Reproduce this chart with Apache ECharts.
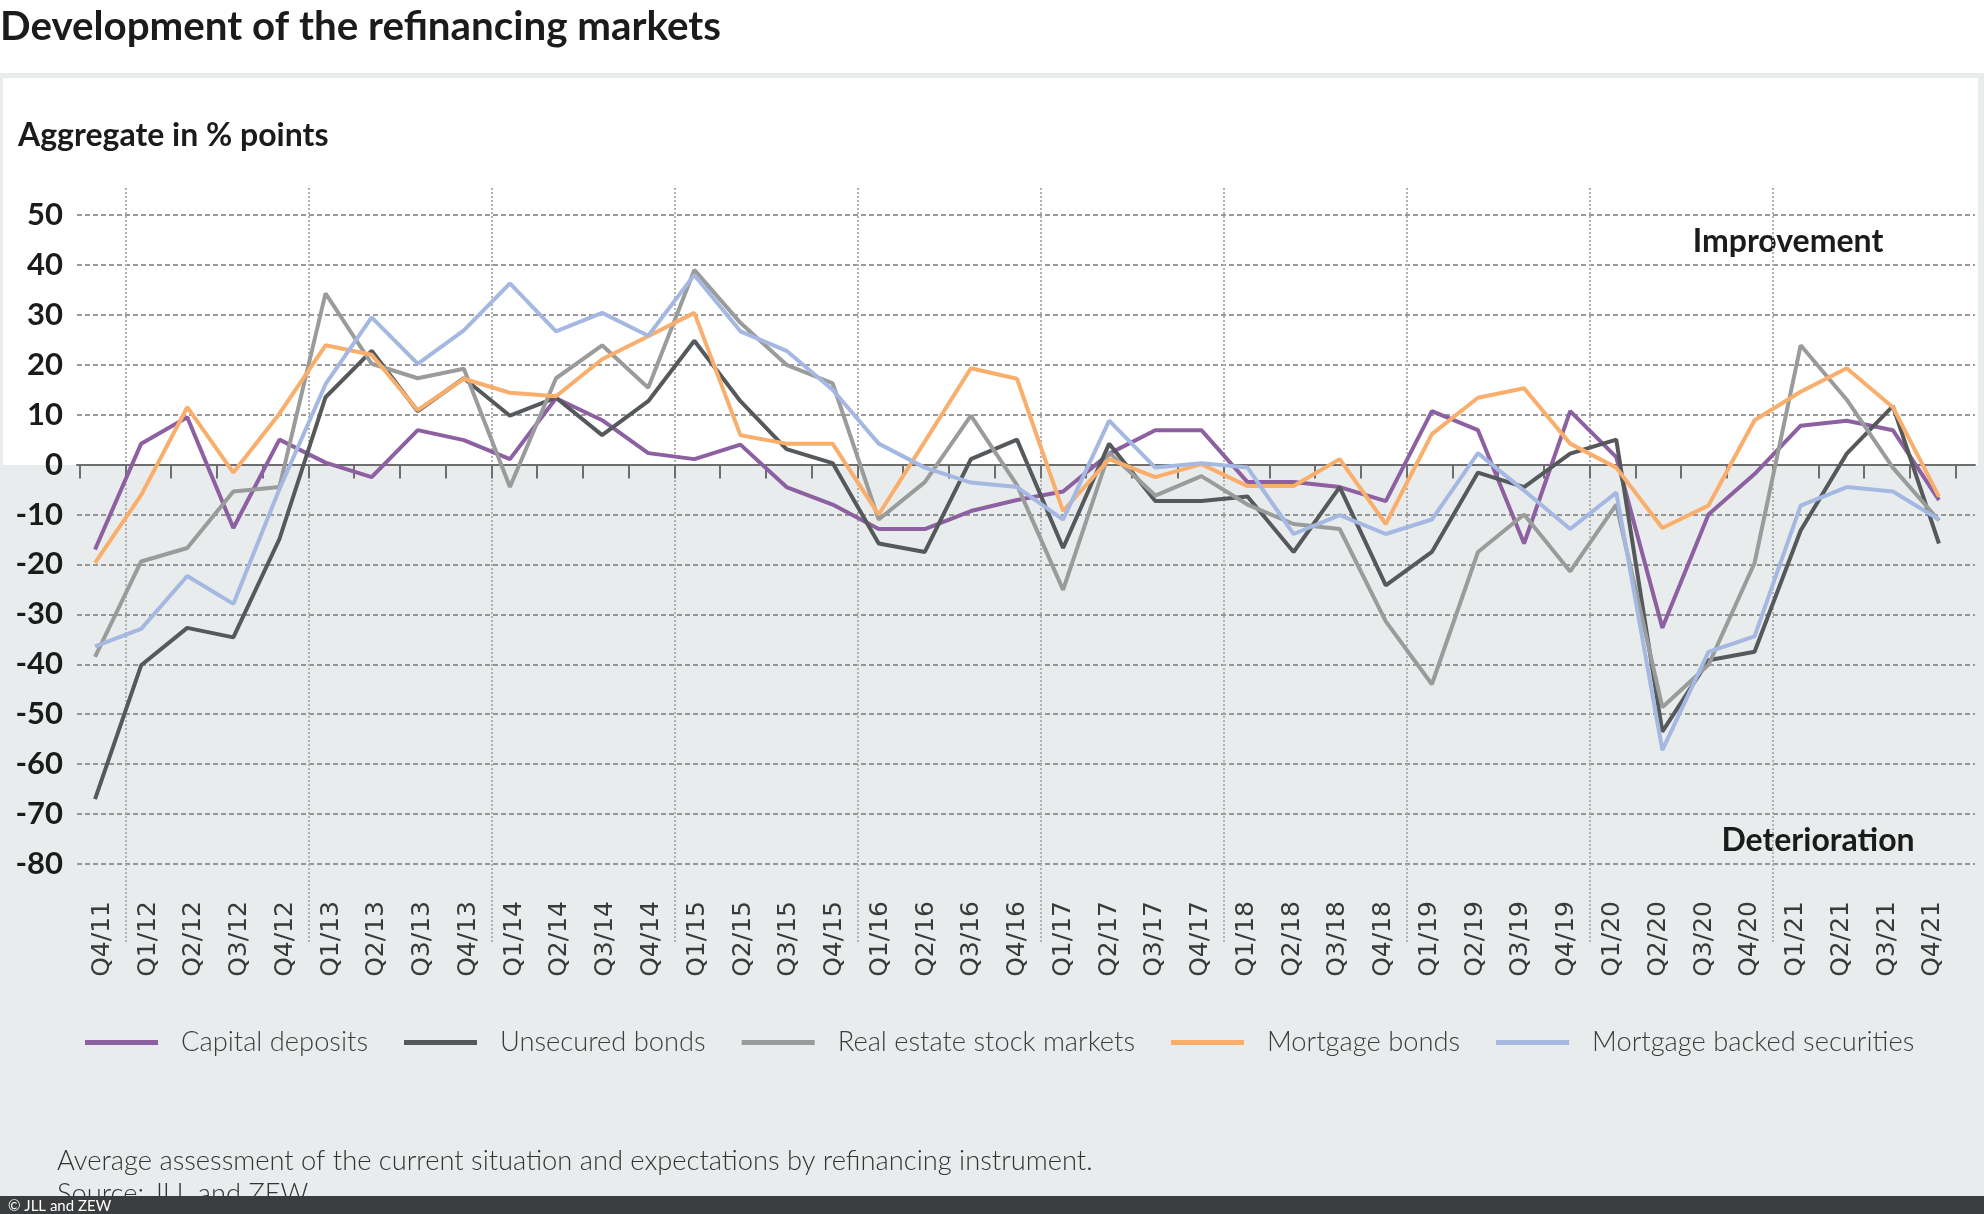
<!DOCTYPE html>
<html>
<head>
<meta charset="utf-8">
<script src="https://cdn.jsdelivr.net/npm/echarts@6/dist/echarts.min.js"></script>
<style>
  html, body { margin: 0; padding: 0; background: #ffffff; }
  #wrap { position: relative; width: 1984px; height: 1214px; overflow: hidden; }
  #bgPanel { position: absolute; left: 0; top: 73px; width: 1984px; height: 1141px; background: #e9ecec; }
  #bgWhite { position: absolute; left: 3px; top: 78px; width: 1975px; height: 386px; background: #ffffff; }
  #chart { position: absolute; left: 0; top: 0; width: 1984px; height: 1214px; }
</style>
</head>
<body>
<div id="wrap">
  <div id="bgPanel"></div>
  <div id="bgWhite"></div>
  <div id="chart"></div>
</div>
<script>
const categories = ["Q4/11","Q1/12","Q2/12","Q3/12","Q4/12","Q1/13","Q2/13","Q3/13","Q4/13","Q1/14","Q2/14","Q3/14","Q4/14","Q1/15","Q2/15","Q3/15","Q4/15","Q1/16","Q2/16","Q3/16","Q4/16","Q1/17","Q2/17","Q3/17","Q4/17","Q1/18","Q2/18","Q3/18","Q4/18","Q1/19","Q2/19","Q3/19","Q4/19","Q1/20","Q2/20","Q3/20","Q4/20","Q1/21","Q2/21","Q3/21","Q4/21"];

const capitalDeposits = [-17, 4.2, 9.5, -12.7, 5.0, 0.4, -2.5, 6.9, 4.9, 1.1, 13.3, 8.9, 2.3, 1.1, 4.0, -4.5, -8.0, -12.9, -12.9, -9.3, -7.1, -5.4, 2.2, 6.9, 6.9, -3.5, -3.5, -4.5, -7.3, 10.7, 6.9, -15.8, 10.7, 1.5, -32.7, -10.0, -1.9, 7.8, 8.8, 6.9, -7.1];
const unsecuredBonds = [-67, -40.2, -32.7, -34.6, -14.9, 13.5, 22.8, 10.7, 17.3, 9.8, 13.4, 5.9, 12.7, 24.8, 12.7, 3.1, 0.3, -15.8, -17.5, 1.1, 5.0, -16.7, 4.2, -7.3, -7.3, -6.4, -17.5, -4.5, -24.2, -17.5, -1.6, -4.5, 2.2, 5.0, -53.5, -39.2, -37.5, -13.2, 2.2, 11.7, -15.8];
const realEstateStockMarkets = [-38.5, -19.4, -16.7, -5.4, -4.5, 34.3, 20.2, 17.3, 19.2, -4.5, 17.3, 23.9, 15.4, 39.0, 28.4, 20.0, 16.3, -11.0, -3.5, 9.8, -4.1, -25.1, 2.4, -6.2, -2.3, -8.0, -11.9, -12.9, -31.4, -44.0, -17.5, -10.0, -21.4, -8.0, -48.6, -40.1, -19.7, 23.9, 13.0, -0.6, -11.2];
const mortgageBonds = [-19.7, -6.1, 11.5, -1.6, 10.2, 23.9, 22.0, 10.9, 17.2, 14.4, 13.7, 21.1, 25.7, 30.4, 5.9, 4.2, 4.2, -10.0, 4.6, 19.3, 17.2, -9.3, 1.1, -2.5, 0.1, -4.3, -4.3, 1.1, -11.9, 6.1, 13.4, 15.3, 4.2, -0.6, -12.7, -8.2, 8.9, 14.6, 19.3, 11.5, -6.4];
const mortgageBackedSecurities = [-36.4, -32.9, -22.3, -27.9, -4.9, 16.1, 29.5, 20.2, 26.9, 36.3, 26.7, 30.4, 25.8, 38.0, 26.7, 22.8, 15.0, 4.2, -0.6, -3.6, -4.5, -11.0, 8.8, -0.6, 0.3, -0.6, -13.9, -10.1, -13.9, -11.0, 2.3, -5.2, -12.9, -5.6, -57.2, -37.5, -34.4, -8.2, -4.5, -5.4, -11.0];

const seriesNames = ["Capital deposits", "Unsecured bonds", "Real estate stock markets", "Mortgage bonds", "Mortgage backed securities"];
const seriesData = [capitalDeposits, unsecuredBonds, realEstateStockMarkets, mortgageBonds, mortgageBackedSecurities];
const seriesColors = ["#8c60a1", "#56595b", "#9a9b9b", "#f9ae6c", "#a4b8e2"];

const yMin = -80, yMax = 50, yStep = 10;
// hidden value range for the year-separator grid (same scale, taller box)
const yearMin = -95.8, yearMax = 55.3;
// boundaries between quarters (0 = left edge, categories.length = right edge)
const quarterBoundaries = Array.from({ length: categories.length + 1 }, (_, i) => String(i));

const FONT = "Lato, 'Noto Sans', sans-serif";

const chart = echarts.init(document.getElementById('chart'), null, { renderer: 'canvas' });

const hiddenCat = (grid) => ({
  gridIndex: grid, type: 'category', data: categories, boundaryGap: true,
  axisLine: { show: false, onZero: false }, axisTick: { show: false }, axisLabel: { show: false }, splitLine: { show: false }
});

const option = {
  backgroundColor: 'transparent',
  animation: false,
  title: {
    text: 'Development of the refinancing markets',
    left: 0, top: 2, padding: [5, 0, 5, 0],
    textStyle: { fontFamily: FONT, fontSize: 40.3, fontWeight: 'bold', color: '#1b1b1b' }
  },
  grid: [
    // 0: data
    { left: 72, right: 22, top: 215, bottom: 350, containLabel: false, outerBoundsMode: 'none' },
    // 1: frame (horizontal gridlines, y labels, zero line)
    { left: 77, right: 9, top: 215, bottom: 350, containLabel: false, outerBoundsMode: 'none' },
    // 2: ticks and category labels
    { left: 79.5, right: 28.3, top: 215, bottom: 350, containLabel: false, outerBoundsMode: 'none' },
    // 3: year separators (points = quarter boundaries)
    { left: 79.5, right: 28.3, top: 188, bottom: 272, containLabel: false, outerBoundsMode: 'none' }
  ],
  xAxis: [
    hiddenCat(0),
    {
      gridIndex: 1, type: 'category', data: categories, boundaryGap: true, position: 'bottom',
      axisLine: { show: true, onZero: true, lineStyle: { color: '#6e6e6e', width: 2 } },
      axisTick: { show: false }, axisLabel: { show: false }, splitLine: { show: false }
    },
    {
      gridIndex: 2, type: 'category', data: categories, boundaryGap: true, position: 'top',
      axisLine: { show: false, onZero: true },
      axisTick: { show: true, inside: true, length: 14, interval: 0, lineStyle: { color: '#6e6e6e', width: 2 } },
      axisLabel: { show: false }, splitLine: { show: false }
    },
    {
      gridIndex: 2, type: 'category', data: categories, boundaryGap: true, position: 'bottom',
      axisLine: { show: false, onZero: false }, axisTick: { show: false },
      axisLabel: { rotate: 90, interval: 0, margin: 37, fontFamily: "'DejaVu Sans', sans-serif", fontSize: 25, color: '#3a3a3a', hideOverlap: false },
      splitLine: { show: false }
    },
    {
      gridIndex: 3, type: 'category', data: quarterBoundaries, boundaryGap: false, position: 'bottom',
      axisLine: { show: false, onZero: false }, axisTick: { show: false }, axisLabel: { show: false },
      splitLine: {
        show: true,
        interval: function (idx) { return idx % 4 === 1 && idx < categories.length; },
        lineStyle: { type: 'dotted', color: '#b0b2b2', width: 2 }
      }
    }
  ],
  yAxis: [
    { gridIndex: 0, type: 'value', min: yMin, max: yMax, interval: yStep, show: false, splitLine: { show: false } },
    {
      gridIndex: 1, type: 'value', min: yMin, max: yMax, interval: yStep,
      axisLine: { show: false }, axisTick: { show: false },
      axisLabel: { margin: 14, fontFamily: FONT, fontSize: 31, fontWeight: 'bold', color: '#1b1b1b' },
      splitLine: { show: true, lineStyle: { type: [5, 3], color: '#7a7a7a', width: 1.5 } }
    },
    { gridIndex: 2, type: 'value', min: yMin, max: yMax, interval: yStep, show: false, splitLine: { show: false } },
    { gridIndex: 3, type: 'value', min: yearMin, max: yearMax, show: false, splitLine: { show: false } }
  ],
  legend: {
    left: 80, top: 1024,
    icon: 'rect', itemWidth: 73, itemHeight: 5, itemGap: 36,
    textStyle: { fontFamily: FONT, fontSize: 27.3, fontWeight: 300, color: '#3c3c3c', padding: [0, 0, 0, 18] },
    data: seriesNames
  },
  series: seriesNames.map((name, i) => ({
    name: name, type: 'line', xAxisIndex: 0, yAxisIndex: 0,
    data: seriesData[i], symbol: 'none', color: seriesColors[i],
    lineStyle: { width: 4, color: seriesColors[i] },
    emphasis: { disabled: true }
  })),
  graphic: [
    { type: 'text', left: 18, top: 120, style: { text: 'Aggregate in % points', fontFamily: FONT, fontSize: 32, fontWeight: 'bold', fill: '#1b1b1b' } },
    { type: 'text', x: 1788, y: 242, style: { text: 'Improvement', fontFamily: FONT, fontSize: 32, fontWeight: 'bold', fill: '#1b1b1b', align: 'center', verticalAlign: 'middle' } },
    { type: 'text', x: 1818, y: 841, style: { text: 'Deterioration', fontFamily: FONT, fontSize: 32, fontWeight: 'bold', fill: '#1b1b1b', align: 'center', verticalAlign: 'middle' } },
    { type: 'text', x: 57, y: 1161, style: { text: 'Average assessment of the current situation and expectations by refinancing instrument.', fontFamily: FONT, fontSize: 27.3, fontWeight: 300, fill: '#333333', verticalAlign: 'middle' } },
    { type: 'text', x: 57, y: 1194, style: { text: 'Source: JLL and ZEW', fontFamily: FONT, fontSize: 27.3, fontWeight: 300, fill: '#333333', verticalAlign: 'middle' } },
    { type: 'rect', shape: { x: 0, y: 1196, width: 1984, height: 18 }, style: { fill: '#3b3c3d' } },
    { type: 'text', x: 8, y: 1206, style: { text: '© JLL and ZEW', fontFamily: FONT, fontSize: 15, fill: '#ffffff', verticalAlign: 'middle' } }
  ]
};

chart.setOption(option);

const zeroY = chart.convertToPixel({ yAxisIndex: 1 }, 0);
document.getElementById('bgWhite').style.height = Math.round(zeroY - 78) + 'px';
</script>
</body>
</html>
